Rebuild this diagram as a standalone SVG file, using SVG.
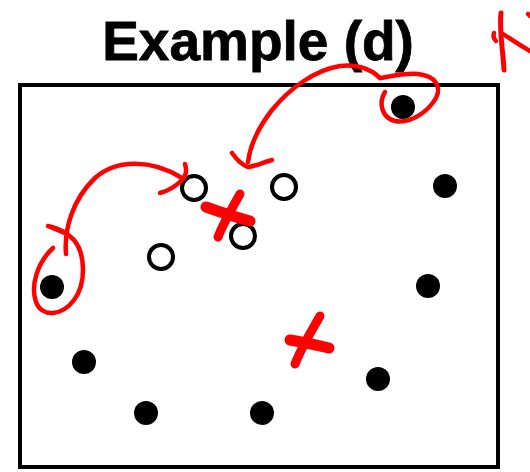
<svg xmlns="http://www.w3.org/2000/svg" width="530" height="472" viewBox="0 0 530 472">
<style>
.title{font-family:"Liberation Sans",Arial,sans-serif;font-weight:bold;font-size:55px;fill:#000;stroke:#000;stroke-width:0.8}
.dot{fill:#000}
.open{fill:#fff;stroke:#000;stroke-width:4}
.ink{fill:none;stroke:#ff0000;stroke-width:4.5;stroke-linecap:round;stroke-linejoin:round}
.thick{fill:none;stroke:#ff0000;stroke-width:9;stroke-linecap:round;stroke-linejoin:round}
</style>
<rect width="530" height="472" fill="#fff"/>
<text class="title" x="258" y="60" text-anchor="middle">Example (d)</text>
<rect x="20" y="85" width="478" height="382" fill="none" stroke="#000" stroke-width="4"/>
<g id="nodes">
<g id="f1"><circle class="dot" cx="403" cy="107" r="12"/></g>
<g id="f2"><circle class="dot" cx="445" cy="186" r="12"/></g>
<g id="f3"><circle class="dot" cx="52" cy="287" r="12"/></g>
<g id="f4"><circle class="dot" cx="428" cy="286" r="12"/></g>
<g id="f5"><circle class="dot" cx="84" cy="362" r="12"/></g>
<g id="f6"><circle class="dot" cx="378" cy="379" r="12"/></g>
<g id="f7"><circle class="dot" cx="146" cy="413" r="12"/></g>
<g id="f8"><circle class="dot" cx="262" cy="413" r="12"/></g>
<g id="o1"><circle class="open" cx="194" cy="188" r="12"/></g>
<g id="o2"><circle class="open" cx="284" cy="187" r="12"/></g>
<g id="o3"><circle class="open" cx="243" cy="236" r="12"/></g>
<g id="o4"><circle class="open" cx="161" cy="257" r="12"/></g>
</g>
<g id="connectors">
<path class="ink" d="M53,248 C38,262 30,285 36,302 C42,318 62,316 74,300 C86,284 86,255 74,240 C66,231 57,228 48,226 L67,234"/>
<path class="ink" d="M66,254 C64,230 72,200 95,178 C115,160 150,158 182,178"/>
<path class="ink" d="M185,164 C187,170 186,176 182,180 C176,186 168,191 160,193"/>
<path class="ink" d="M385,92 C378,103 382,118 395,121 C410,124 428,112 436,98 C442,86 435,76 418,74 C405,73 392,76 380,78"/>
<path class="ink" d="M380,78 C370,68 355,64 340,66 C315,70 290,88 272,110 C258,128 250,145 248,162"/>
<path class="ink" d="M232,153 C237,160 242,165 248,167 C256,166 264,162 272,160"/>
</g>
<g id="marks">
<path class="ink" d="M501,13 C499,30 503,50 504,70" style="stroke-width:5"/>
<path class="ink" d="M494,33 C493,36 494,39 496,41"/>
<path class="ink" d="M503,34 C512,40 521,46 530,51"/>
<path class="ink" d="M528,14 L530,16"/>
<path class="thick" d="M206,207 C220,212 235,217 250,221" style="stroke-width:11"/>
<path class="thick" d="M240,194 C232,208 224,222 218,237"/>
<path class="thick" d="M290,340 C303,342 316,345 329,348" style="stroke-width:11"/>
<path class="thick" d="M320,316 C312,330 302,346 295,364"/>
</g>
</svg>
